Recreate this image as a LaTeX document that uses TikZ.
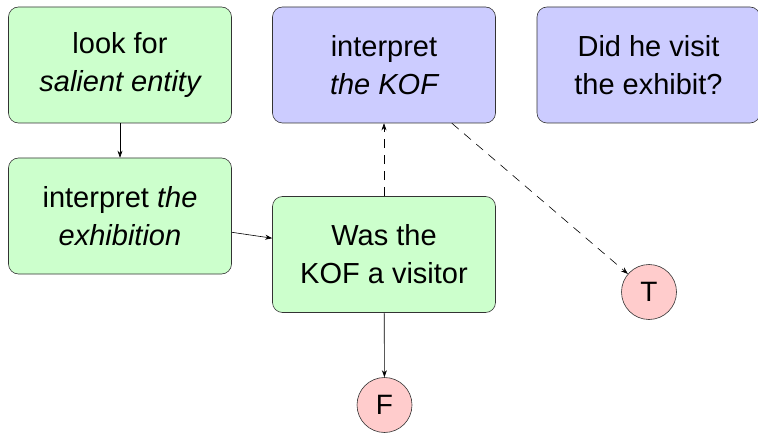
\documentclass[tikz,border=0pt]{standalone}
\usepackage{fontspec}
\setmainfont{Liberation Sans}
\usetikzlibrary{arrows.meta}
\begin{document}
\begin{tikzpicture}[x=1pt,y=-1pt,
  box/.style={draw=black!80, line width=0.6pt, rounded corners=10pt, minimum width=223pt, minimum height=116pt, align=center, font=\fontsize{29}{38}\selectfont, inner sep=0pt},
  gbox/.style={box, fill=green!20},
  bbox/.style={box, fill=blue!20},
  leaf/.style={draw=black!80, line width=0.6pt, circle, fill=red!20, minimum size=55pt, inner sep=0pt, font=\fontsize{28}{32}\selectfont},
  arr/.style={-{Stealth[length=7pt,width=5pt]}, line width=0.6pt},
  darr/.style={arr, dash pattern=on 9pt off 7pt}]
\useasboundingbox (0,0) rectangle (758,433);
\node[gbox] (look) at (120,65) {look for\\\itshape salient entity};
\node[bbox] (kof) at (384,65) {interpret\\\itshape the KOF};
\node[bbox] (did) at (648.5,65) {Did he visit\\the exhibit?};
\node[gbox] (exh) at (120,216) {interpret \textit{the}\\\itshape exhibition};
\node[gbox] (was) at (384,254.5) {Was the\\KOF a visitor};
\node[leaf] (T) at (649,292) {T};
\node[leaf] (F) at (384.5,405) {F};
\draw[arr] (look) -- (exh);
\draw[arr] (exh) -- (was);
\draw[darr] (was) -- (kof);
\draw[darr] (kof) -- (T);
\draw[arr] (was) -- (F);
\end{tikzpicture}
\end{document}
